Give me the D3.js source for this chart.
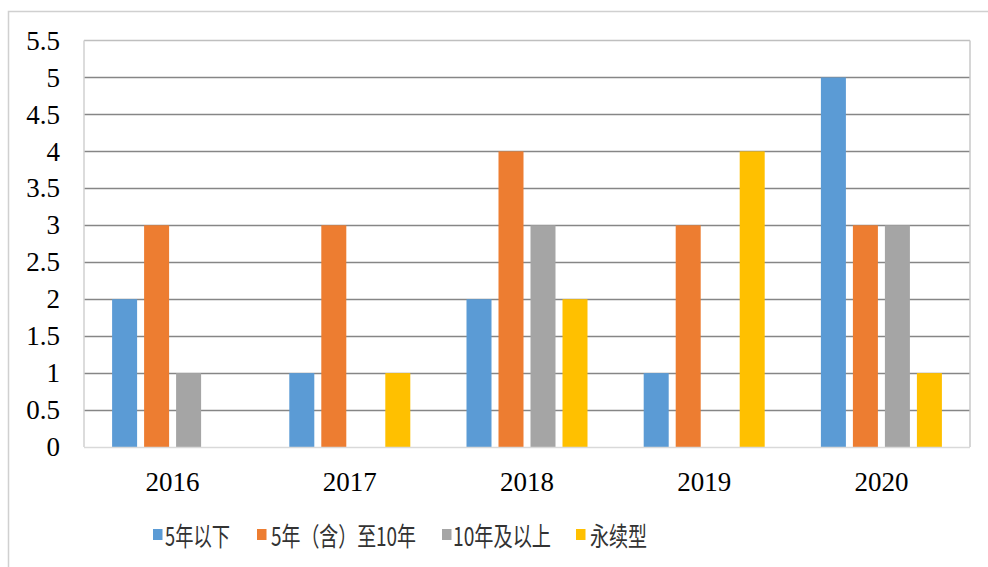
<!DOCTYPE html>
<html><head><meta charset="utf-8">
<script src="https://cdn.jsdelivr.net/npm/d3@7"></script>
<style>body{margin:0;background:#fff}svg{display:block}</style>
</head><body>
<svg id="c" width="988" height="567"></svg>
<script>
const categories = ["2016","2017","2018","2019","2020"];
const seriesNames = ["5年以下","5年（含）至10年","10年及以上","永续型"];
const below5 = [2,1,2,1,5];
const from5to10 = [3,3,4,3,3];
const over10 = [1,0,3,0,3];
const perpetual = [0,1,2,4,1];
const yTicks = [0,0.5,1,1.5,2,2.5,3,3.5,4,4.5,5,5.5];
const yTickLabels = ["0","0.5","1","1.5","2","2.5","3","3.5","4","4.5","5","5.5"];
const colors = ["#5B9BD5","#ED7D31","#A5A5A5","#FFC000"];
const series = [below5, from5to10, over10, perpetual];

const serif = "'Liberation Serif', 'Times New Roman', serif";
const svg = d3.select("#c");
const L = 84, R = 970, T = 40.5, B = 447;

// outer chart border
svg.append("rect").attr("x",8.5).attr("y",11.5).attr("width",1000).attr("height",600)
  .attr("fill","none").attr("stroke","#d0d0d0").attr("stroke-width",1.5);

const x = d3.scaleBand().domain(categories).range([L,R]);
const y = d3.scaleLinear().domain([0,5.5]).range([B,T]);

// gridlines
svg.append("g").selectAll("line").data(yTicks.filter(v=>v>0 && v<5.5)).join("line")
  .attr("x1",L).attr("x2",R).attr("y1",d=>Math.round(y(d))+0.5).attr("y2",d=>Math.round(y(d))+0.5)
  .attr("stroke","#868686").attr("stroke-width",1.5);

// plot border
svg.append("line").attr("x1",L).attr("x2",R).attr("y1",T).attr("y2",T).attr("stroke","#bfbfbf").attr("stroke-width",1.5);
svg.append("line").attr("x1",L).attr("x2",L).attr("y1",T).attr("y2",B).attr("stroke","#d0d0d0").attr("stroke-width",1.5);
svg.append("line").attr("x1",R).attr("x2",R).attr("y1",T).attr("y2",B).attr("stroke","#c8c8c8").attr("stroke-width",1.5);

// bars
const barW = 25, step = 32;
series.forEach((vals, si) => {
  svg.append("g").selectAll("rect").data(vals).join("rect")
    .attr("x",(d,i)=> x(categories[i]) + x.bandwidth()/2 - (step*3+barW)/2 + si*step)
    .attr("width",barW)
    .attr("y",d=>y(d))
    .attr("height",d=>B - y(d))
    .attr("fill",colors[si]);
});

// bottom axis line
svg.append("line").attr("x1",L).attr("x2",R).attr("y1",B+0.5).attr("y2",B+0.5).attr("stroke","#d9d9d9").attr("stroke-width",1.5);

// y tick labels
svg.append("g").selectAll("text").data(yTicks).join("text")
  .attr("x",60).attr("y",d=>y(d)).attr("dy","0.34em")
  .attr("text-anchor","end").style("font-family",serif)
  .attr("font-size",27).attr("fill","#000").text((d,i)=>yTickLabels[i]);

// x labels
svg.append("g").selectAll("text").data(categories).join("text")
  .attr("x",d=>x(d)+x.bandwidth()/2).attr("y",491)
  .attr("text-anchor","middle").style("font-family",serif)
  .attr("font-size",27).attr("fill","#000").text(d=>d);

// legend
const legX = [153, 257, 442, 576];
const legTextX = [165, 271, 453, 590];
const legTextW = [65, 145, 98, 57];
const lg = svg.append("g");
seriesNames.forEach((n,i)=>{
  lg.append("rect").attr("x",legX[i]).attr("y",529).attr("width",9.5).attr("height",11).attr("fill",colors[i]);
  lg.append("g").attr("transform",`translate(${legTextX[i]},545.5) scale(1,1.18)`)
    .append("text").attr("x",0).attr("y",0)
    .style("font-family","'Noto Sans CJK SC', sans-serif").attr("font-size",22)
    .attr("textLength",legTextW[i]).attr("lengthAdjust","spacingAndGlyphs")
    .attr("fill","#333").text(n);
});
</script>
</body></html>
